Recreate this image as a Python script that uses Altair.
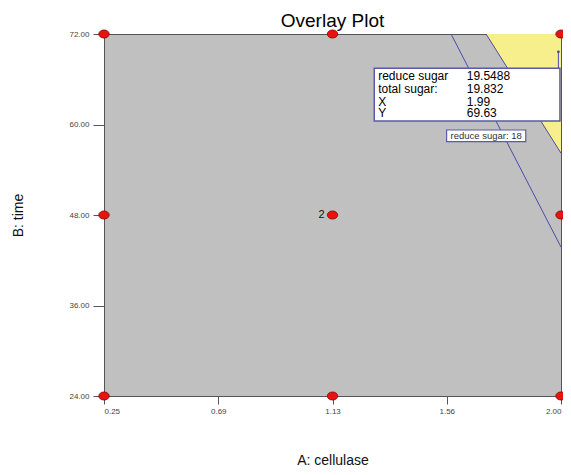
import altair as alt
import pandas as pd

# ---- data ----
design_a = [0.25, 0.25, 0.25, 1.125, 1.125, 1.125, 2.0, 2.0, 2.0]
design_b = [24, 48, 72, 24, 48, 72, 24, 48, 72]
x_ticks = [0.25, 0.6875, 1.125, 1.5625, 2.0]
y_ticks = [24, 36, 48, 60, 72]

# contour: reduce sugar = 18
c18_a = [1.579, 2.0]
c18_b = [72.0, 43.75]
# boundary of feasible (yellow) region
feas_a = [1.713, 2.0]
feas_b = [72.0, 56.2]
feas_top = [72.0, 72.0]

flag_names = ["reduce sugar", "total sugar:", "X", "Y"]
flag_values = ["19.5488", "19.832", "1.99", "69.63"]
flag_point = (1.99, 69.63)

# ---- annotation placement (data units) ----
BOX_X, BOX_X2, BOX_Y, BOX_Y2 = 1.285, 1.996, 67.45, 60.46
NAME_X, VALUE_X = 1.30, 1.639
ROW_Y = [66.43, 64.67, 63.02, 61.48]
LBL_X, LBL_X2, LBL_Y, LBL_Y2 = 1.562, 1.865, 59.27, 57.72

FONT = "Liberation Sans"
BLUE = "#4a4aaa"

xs = alt.Scale(domain=[0.25, 2.0], nice=False, zero=False)
ys = alt.Scale(domain=[24, 72], nice=False, zero=False)

x_axis = alt.Axis(values=x_ticks, format=".2f", title="A: cellulase", grid=False,
                  tickSize=8, labelPadding=3, labelFontSize=8, labelColor="#444",
                  labelFont=FONT, tickColor="#555", domainColor="#555",
                  titleFont=FONT, titleFontSize=14, titleFontWeight="normal",
                  titleColor="#111", titleX=228.5, titleY=64,
                  titleBaseline="middle", titleAlign="center")
y_axis = alt.Axis(values=y_ticks, format=".2f", title="B: time", grid=False,
                  tickSize=11, labelPadding=4, labelFontSize=8, labelColor="#444",
                  labelFont=FONT, tickColor="#555", domainColor="#555",
                  titleFont=FONT, titleFontSize=14, titleFontWeight="normal",
                  titleColor="#111", titleX=-86, titleY=181, titleAngle=-90,
                  titleBaseline="middle", titleAlign="center")

feas_df = pd.DataFrame({"a": feas_a, "b": feas_b, "b2": feas_top})
yellow = alt.Chart(feas_df).mark_area(color="#f6ef8c", opacity=1).encode(
    x=alt.X("a:Q", scale=xs, axis=x_axis),
    y=alt.Y("b:Q", scale=ys, axis=y_axis),
    y2="b2:Q",
)

c18_df = pd.DataFrame({"a": c18_a, "b": c18_b})
line18 = alt.Chart(c18_df).mark_line(color=BLUE, strokeWidth=1).encode(
    x=alt.X("a:Q", scale=xs), y=alt.Y("b:Q", scale=ys))
line_feas = alt.Chart(pd.DataFrame({"a": feas_a, "b": feas_b})).mark_line(
    color=BLUE, strokeWidth=1).encode(x=alt.X("a:Q", scale=xs), y=alt.Y("b:Q", scale=ys))

pts_df = pd.DataFrame({"a": design_a, "b": design_b})
ellipse = "M -1 0 A 1 0.78 0 1 0 1 0 A 1 0.78 0 1 0 -1 0 Z"
points = alt.Chart(pts_df).mark_point(shape=ellipse, size=110, filled=True,
                                      fill="#e8130f", stroke="#7a0000",
                                      strokeWidth=0.7, opacity=1).encode(
    x=alt.X("a:Q", scale=xs), y=alt.Y("b:Q", scale=ys))

center_df = pd.DataFrame({"a": [1.125], "b": [48], "t": ["2"]})
center_lbl = alt.Chart(center_df).mark_text(dx=-11, font=FONT, fontSize=11,
                                           color="#111").encode(
    x=alt.X("a:Q", scale=xs), y=alt.Y("b:Q", scale=ys), text="t:N")

# flag pointer
flag_line_df = pd.DataFrame({"a": [flag_point[0]], "b": [flag_point[1]], "b2": [BOX_Y]})
flag_line = alt.Chart(flag_line_df).mark_rule(color=BLUE, strokeWidth=1).encode(
    x=alt.X("a:Q", scale=xs), y=alt.Y("b:Q", scale=ys), y2="b2:Q")
flag_dot = alt.Chart(flag_line_df).mark_point(filled=True, size=8, color=BLUE,
                                              opacity=1).encode(
    x=alt.X("a:Q", scale=xs), y=alt.Y("b:Q", scale=ys))

box_df = pd.DataFrame({"a": [BOX_X], "a2": [BOX_X2], "b": [BOX_Y], "b2": [BOX_Y2]})
box = alt.Chart(box_df).mark_rect(fill="white", stroke="#5a5aa8",
                                  strokeWidth=1.5).encode(
    x=alt.X("a:Q", scale=xs), x2="a2:Q", y=alt.Y("b:Q", scale=ys), y2="b2:Q")

rows_df = pd.DataFrame({"n": flag_names, "v": flag_values, "y": ROW_Y,
                        "xn": [NAME_X] * 4, "xv": [VALUE_X] * 4})
names = alt.Chart(rows_df).mark_text(align="left", baseline="middle", font=FONT,
                                     fontSize=12, color="#000", lineHeight=12).encode(
    x=alt.X("xn:Q", scale=xs), y=alt.Y("y:Q", scale=ys), text="n:N")
values = alt.Chart(rows_df).mark_text(align="left", baseline="middle", font=FONT,
                                      fontSize=12, color="#000", lineHeight=12).encode(
    x=alt.X("xv:Q", scale=xs), y=alt.Y("y:Q", scale=ys), text="v:N")

lbl_df = pd.DataFrame({"a": [LBL_X], "a2": [LBL_X2], "b": [LBL_Y], "b2": [LBL_Y2],
                       "xm": [(LBL_X + LBL_X2) / 2], "ym": [(LBL_Y + LBL_Y2) / 2],
                       "t": ["reduce sugar: 18"]})
lbl_box = alt.Chart(lbl_df).mark_rect(fill="white", stroke="#5a5aa8",
                                      strokeWidth=1.2).encode(
    x=alt.X("a:Q", scale=xs), x2="a2:Q", y=alt.Y("b:Q", scale=ys), y2="b2:Q")
lbl_txt = alt.Chart(lbl_df).mark_text(align="center", baseline="middle", font=FONT,
                                      fontSize=9.5, color="#333").encode(
    x=alt.X("xm:Q", scale=xs), y=alt.Y("ym:Q", scale=ys), text="t:N")

chart = alt.layer(
    yellow, line18, line_feas, points, center_lbl, box, names, values,
    flag_line, flag_dot, lbl_box, lbl_txt
).properties(
    width=457, height=362,
    title=alt.TitleParams("Overlay Plot", font=FONT, fontSize=19,
                          fontWeight="normal", color="#000", anchor="middle",
                          baseline="bottom", offset=4, dy=25),
    autosize=alt.AutoSizeParams(type="none"),
    padding={"left": 96, "top": 26, "right": 2, "bottom": 71},
    background="white",
).configure_view(
    fill="#c0c0c0", stroke="#555", strokeWidth=1
)

chart.save("out.html", embed_options={"renderer": "svg", "actions": False})
